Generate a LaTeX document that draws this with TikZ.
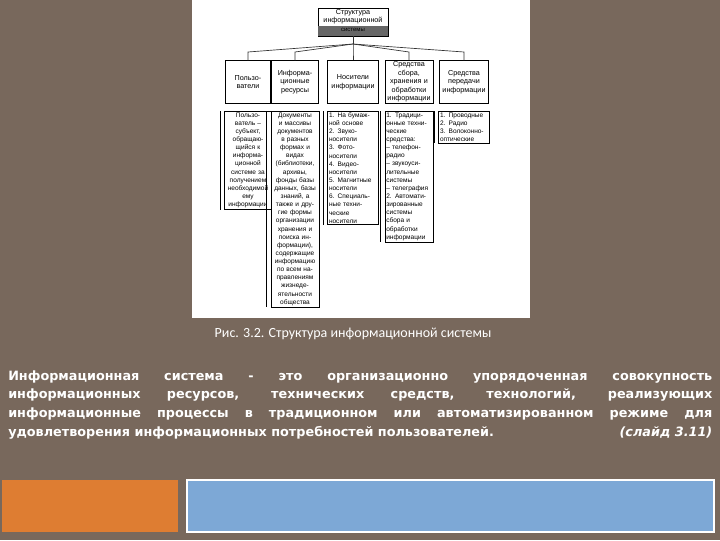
\documentclass[tikz,border=0pt]{standalone}
\usepackage{fontspec}
\setmainfont{Liberation Sans}
\newfontfamily\capfont{Carlito}
\newfontfamily\parfont{DejaVu Sans}
\begin{document}
\begin{tikzpicture}[x=0.75pt,y=-0.75pt,
  hdr/.style={draw=black,line width=0.5pt,fill=white,align=center,inner sep=1pt,font=\fontsize{5.4}{6.4}\selectfont},
  det/.style={draw=black,line width=0.5pt,fill=white,align=center,anchor=north,inner sep=1pt,font=\fontsize{4.9}{6.1}\selectfont},
  conn/.style={draw=black!80,line width=0.5pt}]
\useasboundingbox (0,0) rectangle (720,540);
\fill[fill={rgb,255:red,120;green,104;blue,92}] (0,0) rectangle (720,540);
\fill[white] (192,0) rectangle (530,318);
% top box
\node[hdr,minimum width=52.5pt,minimum height=21pt] (top) at (353,22) {};
\fill[black!60] ([yshift=-14pt]top.north west) rectangle (top.south east);
\node[font=\fontsize{5.4}{6}\selectfont,align=center] (tt) at (353,17) {Структура\\информационной};
\node[font=\fontsize{4.5}{5}\selectfont] (ts) at (353,30) {системы};
% headers
\node[hdr,text width=32pt,minimum height=32pt] (h1) at (248,82) {Пользо-\\ватели};
\node[hdr,text width=33pt,minimum height=32pt] (h2) at (295,82) {Информа-\\ционные\\ресурсы};
\node[hdr,text width=36pt,minimum height=32pt] (h3) at (353,82) {Носители\\информации};
\node[hdr,text width=34pt,minimum height=32pt] (h4) at (409,82) {Средства\\сбора,\\хранения и\\обработки\\информации};
\node[hdr,text width=35pt,minimum height=32pt] (h5) at (464,82) {Средства\\передачи\\информации};
% connectors
\coordinate (b) at (353,44);
\draw[conn] (top.south) -- (b);
\foreach \h/\x in {h1/248,h2/295,h3/353,h4/409,h5/464}{
  \draw[conn] (b) -- (\x,52) -- (\h.north);
}
% details
\node[det,text width=33pt] (d1) at (248,111) {Пользо-\\ватель --\\субъект,\\обращаю-\\щийся к\\информа-\\ционной\\системе за\\получением\\необходимой\\ему\\информации};
\node[det,text width=34pt] (d2) at (295,111) {Документы\\и массивы\\документов\\в разных\\формах и\\видах\\(библиотеки,\\архивы,\\фонды базы\\данных, базы\\знаний, а\\также и дру-\\гие формы\\организации\\хранения и\\поиска ин-\\формации),\\содержащие\\информацию\\по всем на-\\правлениям\\жизнеде-\\ятельности\\общества};
\node[det,text width=36pt,align=left] (d3) at (353,111) {1. На бумаж-\\ной основе\\2. Звуко-\\носители\\3. Фото-\\носители\\4. Видео-\\носители\\5. Магнитные\\носители\\6. Специаль-\\ные техни-\\ческие\\носители};
\node[det,text width=34pt,align=left] (d4) at (409,111) {1. Традици-\\онные техни-\\ческие\\средства:\\-- телефон-\\радио\\-- звукоуси-\\лительные\\системы\\-- телеграфия\\2. Автомати-\\зированные\\системы\\сбора и\\обработки\\информации};
\node[det,text width=36pt,align=left] (d5) at (464,111) {1. Проводные\\2. Радио\\3. Волоконно-\\оптические};
\foreach \d in {d1,d2,d3,d4,d5}{
  \draw[line width=0.4pt] ([xshift=-3pt]\d.north west) -- ([xshift=-3pt]\d.south west);
}
% caption
\node[font=\capfont\fontsize{10.5}{12}\selectfont,text=white] (cap) at (353,334) {Рис. 3.2. Структура информационной системы};
% paragraph
\node[anchor=north west,text width=528pt,align=justify,text=white,inner sep=0pt,
  font=\parfont\bfseries\fontsize{9.6}{14.2}\selectfont] (par) at (8,370)
{Информационная система - это организационно упорядоченная совокупность информационных ресурсов, технических средств, технологий, реализующих информационные процессы в традиционном или автоматизированном режиме для удовлетворения информационных потребностей пользователей.\hfill\textit{(слайд 3.11)}};
% bottom bars
\fill[fill={rgb,255:red,222;green,125;blue,50}] (2,480) rectangle (178,532);
\draw[white,line width=1pt,fill={rgb,255:red,125;green,168;blue,214}] (187,480) rectangle (714,532);
\end{tikzpicture}
\end{document}
